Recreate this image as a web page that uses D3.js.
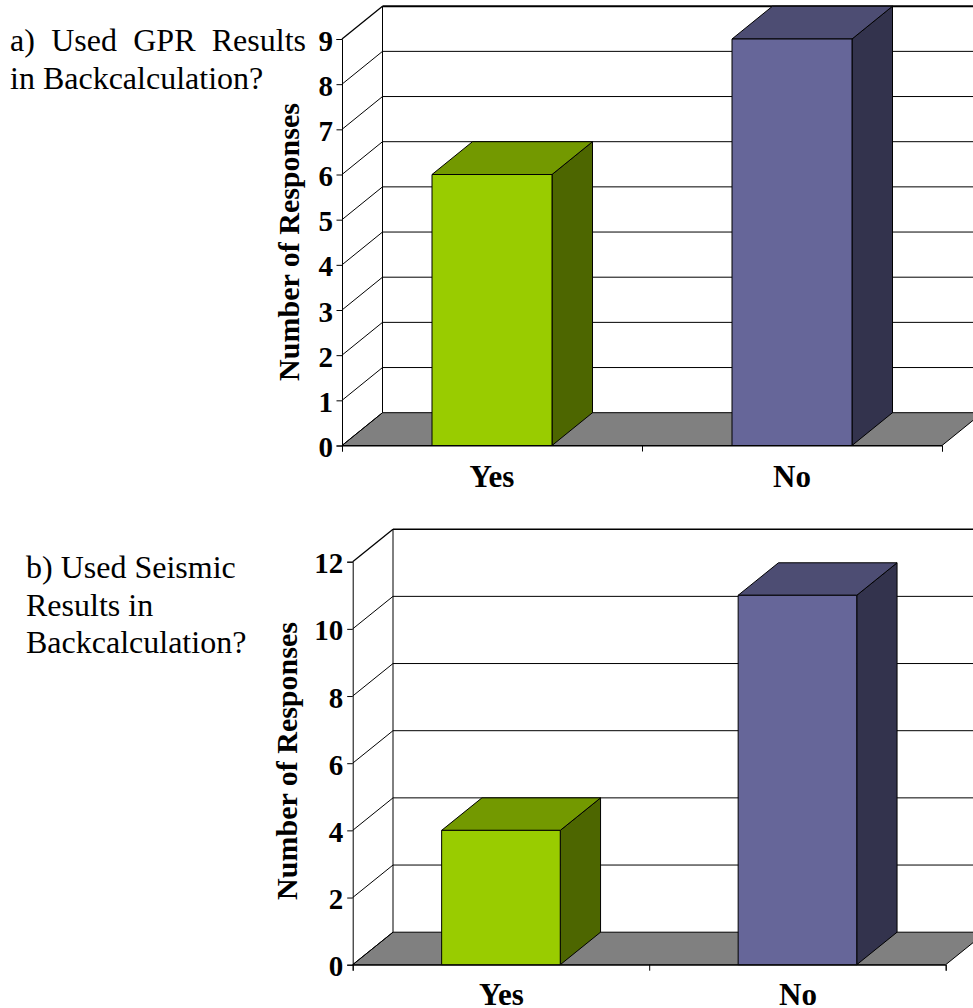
<!DOCTYPE html>
<html>
<head>
<meta charset="utf-8">
<script src="https://cdnjs.cloudflare.com/ajax/libs/d3/7.8.5/d3.min.js"></script>
<style>
  html, body { margin: 0; padding: 0; background: #fff; }
  svg { display: block; }
  text { font-family: "Liberation Serif", "Times New Roman", serif; fill: #000; }
</style>
</head>
<body>
<svg id="page" width="973" height="1008"></svg>
<script>
// Survey responses, one array per question
const categories = ["Yes", "No"];
const gprResponses = [6, 9];
const seismicResponses = [4, 11];
const gprTicks = [0, 1, 2, 3, 4, 5, 6, 7, 8, 9];
const seismicTicks = [0, 2, 4, 6, 8, 10, 12];
const axisTitle = "Number of Responses";
const gprCaption = ["a) Used GPR Results", "in Backcalculation?"];
const seismicCaption = ["b) Used Seismic", "Results in", "Backcalculation?"];

const barShades = [
  { front: "#99cc00", top: "#739900", side: "#4d6600" },
  { front: "#666699", top: "#4d4d73", side: "#33334d" }
];

const svg = d3.select("#page");

// Draws one pseudo-3D column chart: back wall, floor, side wall, axes, columns.
function drawChart(opts) {
  const { values, ticks, domainMax, left, right, top, bottom, depthX, depthY } = opts;
  const g = svg.append("g");

  const x = d3.scaleBand().domain(categories).range([left, right]).paddingInner(0).paddingOuter(0);
  const y = d3.scaleLinear().domain([0, domainMax]).range([bottom, top]);
  const barWidth = x.bandwidth() * 0.4;
  const barLeft = d => x(d) + (x.bandwidth() - barWidth) / 2;

  const line = (x1, y1, x2, y2, w = 1) => g.append("line")
    .attr("x1", x1).attr("y1", y1).attr("x2", x2).attr("y2", y2)
    .attr("stroke", "#000").attr("stroke-width", w);

  // Floor
  g.append("polygon")
    .attr("points", [
      [left, bottom], [right, bottom],
      [right + depthX, bottom - depthY], [left + depthX, bottom - depthY]
    ].map(p => p.join(",")).join(" "))
    .attr("fill", "#808080").attr("stroke", "#000").attr("stroke-width", 1);

  // Gridlines on the back and side walls
  ticks.forEach(t => {
    const yy = y(t);
    if (t !== ticks[0]) {
      line(left + depthX, yy - depthY, right + depthX, yy - depthY, t === domainMax ? opts.topWidth : 1);
    }
    line(left, yy, left + depthX, yy - depthY, t === domainMax ? 1.3 : 1);
  });
  line(left + depthX, y(domainMax) - depthY, left + depthX, bottom - depthY);

  // Value and category axes
  const yAxis = d3.axisLeft(y).tickValues(ticks).tickSize(5.5).tickPadding(opts.tickPad).tickFormat(d3.format("d"));
  const yG = g.append("g").attr("transform", `translate(${left},0)`).call(yAxis);
  yG.selectAll("path, line").attr("stroke", "#000").attr("stroke-width", 1);
  yG.selectAll("text")
    .attr("font-size", 29).attr("font-weight", "bold")
    .attr("font-family", '"Liberation Serif"').attr("dy", "0.38em");

  const edges = [left, x(categories[1]), right];
  const xAxis = d3.axisBottom(d3.scaleLinear().domain([left, right]).range([left, right]))
    .tickValues(edges).tickSize(6).tickFormat("");
  const xG = g.append("g").attr("transform", `translate(0,${bottom})`).call(xAxis);
  xG.selectAll("path, line").attr("stroke", "#000").attr("stroke-width", 1);

  // Columns: front face, top and right side
  categories.forEach((c, i) => {
    const x0 = barLeft(c), x1 = x0 + barWidth, yt = y(values[i]), shade = barShades[i];
    const face = (pts, fill) => g.append("polygon")
      .attr("points", pts.map(p => p.join(",")).join(" "))
      .attr("fill", fill).attr("stroke", "#000").attr("stroke-width", 1).attr("stroke-linejoin", "round");
    face([[x1, yt], [x1 + depthX, yt - depthY], [x1 + depthX, bottom - depthY], [x1, bottom]], shade.side);
    face([[x0, yt], [x0 + depthX, yt - depthY], [x1 + depthX, yt - depthY], [x1, yt]], shade.top);
    face([[x0, yt], [x1, yt], [x1, bottom], [x0, bottom]], shade.front);

    g.append("text")
      .attr("x", x(c) + x.bandwidth() / 2 + opts.labelShift)
      .attr("y", opts.labelY)
      .attr("text-anchor", "middle")
      .attr("font-size", 31).attr("font-weight", "bold")
      .text(c);
  });

  // Rotated axis title
  g.append("text")
    .attr("transform", `translate(${opts.titleX},${opts.titleY}) rotate(-90)`)
    .attr("text-anchor", "middle")
    .attr("font-size", 30).attr("font-weight", "bold")
    .text(axisTitle);
}

drawChart({
  values: gprResponses, ticks: gprTicks, domainMax: 9,
  left: 342, right: 942, top: 39, bottom: 445.5,
  depthX: 40.5, depthY: 32.8, topWidth: 2, tickPad: 3.5,
  labelShift: 0, labelY: 487, titleX: 299, titleY: 242
});

drawChart({
  values: seismicResponses, ticks: seismicTicks, domainMax: 12,
  left: 352.7, right: 945.7, top: 561.7, bottom: 964.7,
  depthX: 40.3, depthY: 32.5, topWidth: 1.4, tickPad: 4,
  labelShift: 0.5, labelY: 1005, titleX: 297, titleY: 761
});

// Captions beside each chart
function caption(lines, x0, firstBaseline, lead, justifyTo) {
  lines.forEach((txt, i) => {
    const t = svg.append("text")
      .attr("x", x0).attr("y", firstBaseline + i * lead)
      .attr("font-size", 32).text(txt);
    if (justifyTo && i === 0) {
      // Stretch the inter-word gaps so the line fills the measure
      const gaps = txt.split(" ").length - 1;
      const extra = (justifyTo - x0 - t.node().getComputedTextLength()) / gaps;
      t.attr("word-spacing", extra);
    }
  });
}
caption(gprCaption, 10, 51, 38, 306);
caption(seismicCaption, 26, 578, 37.5, null);
</script>
</body>
</html>
